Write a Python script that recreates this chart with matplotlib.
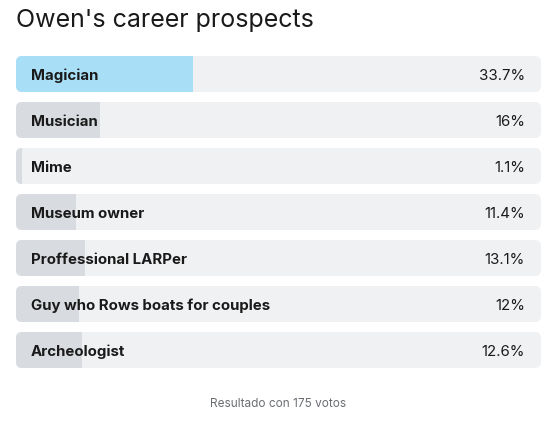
import matplotlib.pyplot as plt
from matplotlib.patches import FancyBboxPatch, Rectangle

plt.rcParams['font.family'] = ['Inter', 'DejaVu Sans']

# poll results
options = ['Magician', 'Musician', 'Mime', 'Museum owner', 'Proffessional LARPer',
           'Guy who Rows boats for couples', 'Archeologist']
percents = [33.7, 16, 1.1, 11.4, 13.1, 12, 12.6]
pct_labels = ['33.7%', '16%', '1.1%', '11.4%', '13.1%', '12%', '12.6%']
total_votes = 175

W, H = 554, 424
fig = plt.figure(figsize=(W / 100, H / 100), dpi=100)
ax = fig.add_axes([0, 0, 1, 1])
ax.set_xlim(0, W)
ax.set_ylim(H, 0)
ax.axis('off')

ax.text(16, 20, "Owen's career prospects", fontsize=18, color='#1a1a1a',
        va='center', ha='left')

x0, track_w = 16, 525
top, row_h, gap = 56, 36, 10
win = percents.index(max(percents))

for i, (name, p, lab) in enumerate(zip(options, percents, pct_labels)):
    y = top + i * (row_h + gap)
    track = FancyBboxPatch((x0, y), track_w, row_h,
                           boxstyle='round,pad=0,rounding_size=6',
                           fc='#f0f1f3', ec='none')
    ax.add_patch(track)
    fill_c = '#a8dff6' if i == win else '#d8dbdf'
    bar = Rectangle((x0, y), track_w * p / 100, row_h, fc=fill_c, ec='none')
    ax.add_patch(bar)
    bar.set_clip_path(track)
    ax.text(31, y + row_h / 2 + 1.5, name, fontsize=10.8, fontweight='bold',
            color='#1a1a1a', va='center', ha='left')
    ax.text(525, y + row_h / 2 + 1.5, lab, fontsize=10.8, color='#1a1a1a',
            va='center', ha='right')

ax.text(W / 2 + 1, 404, 'Resultado con %d votos' % total_votes, fontsize=8.5,
        color='#6b6e73', va='center', ha='center')

fig.savefig('out.png', dpi=100)
